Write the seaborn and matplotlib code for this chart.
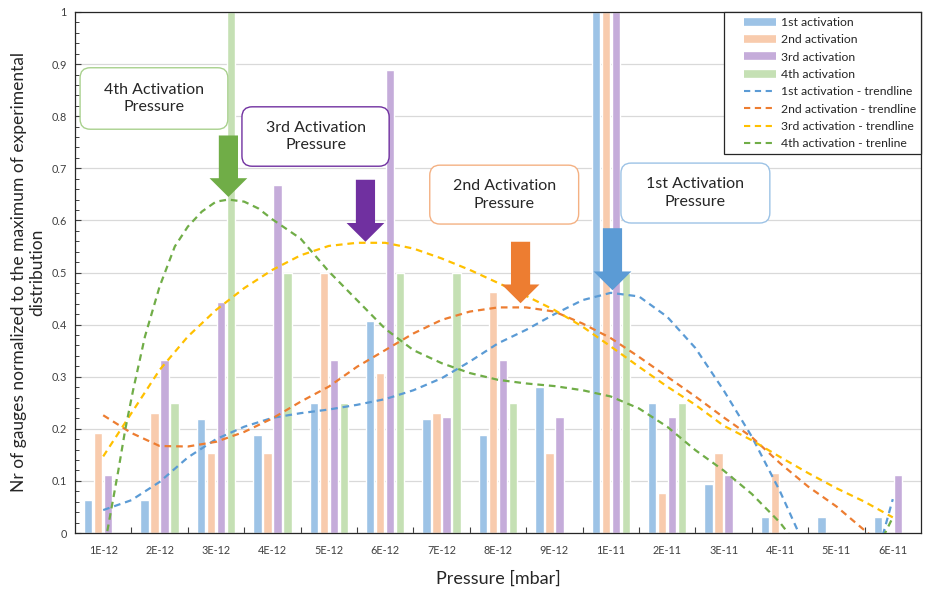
import numpy as np
import pandas as pd
import matplotlib
matplotlib.use("Agg")
import matplotlib.pyplot as plt
from matplotlib.lines import Line2D
from matplotlib.legend_handler import HandlerLine2D
from matplotlib.patches import FancyArrow, FancyBboxPatch
from matplotlib.ticker import FixedLocator, MultipleLocator
import seaborn as sns

# ---- data -------------------------------------------------------------
pressures = ["1E-12", "2E-12", "3E-12", "4E-12", "5E-12", "6E-12", "7E-12",
             "8E-12", "9E-12", "1E-11", "2E-11", "3E-11", "4E-11", "5E-11", "6E-11"]
activations = ["1st activation", "2nd activation", "3rd activation", "4th activation"]

act1 = [0.063, 0.063, 0.219, 0.188, 0.25, 0.406, 0.219, 0.188, 0.281, 1.0, 0.25, 0.094, 0.031, 0.031, 0.031]
act2 = [0.192, 0.231, 0.154, 0.154, 0.5, 0.308, 0.231, 0.462, 0.154, 1.0, 0.077, 0.154, 0.115, 0.0, 0.0]
act3 = [0.111, 0.333, 0.444, 0.667, 0.333, 0.889, 0.222, 0.333, 0.222, 1.0, 0.222, 0.111, 0.0, 0.0, 0.111]
act4 = [0.0, 0.25, 1.0, 0.5, 0.25, 0.5, 0.5, 0.25, 0.0, 0.5, 0.25, 0.0, 0.0, 0.0, 0.0]

# trendlines (position on the category axis, value)
trend_pos = [0, 0.5, 1, 1.5, 2, 2.5, 3, 3.5, 4, 4.5, 5, 5.5, 6, 6.5, 7,
             7.5, 8, 8.5, 9, 9.5, 10, 10.5, 11, 11.5, 12, 12.5, 13, 13.5, 14]
trend1 = [0.044, 0.063, 0.098, 0.145, 0.18, 0.204, 0.221, 0.230, 0.237, 0.246, 0.257, 0.274, 0.297, 0.329,
          0.364, 0.39, 0.42, 0.447, 0.461, 0.454, 0.415, 0.355, 0.274, 0.185, 0.08, -0.04, -0.12, -0.13, 0.065]
trend2 = [0.226, 0.192, 0.167, 0.166, 0.175, 0.194, 0.22, 0.252, 0.281, 0.319, 0.351, 0.383, 0.409, 0.425,
          0.433, 0.433, 0.425, 0.402, 0.374, 0.338, 0.300, 0.262, 0.222, 0.184, 0.134, 0.089, 0.051, 0.005, -0.04]
trend3 = [0.147, 0.23, 0.313, 0.377, 0.428, 0.470, 0.505, 0.533, 0.551, 0.557, 0.557, 0.546, 0.527, 0.505,
          0.48, 0.455, 0.428, 0.396, 0.358, 0.319, 0.281, 0.246, 0.206, 0.178, 0.146, 0.115, 0.086, 0.06, 0.03]
trend4_pos = [0, 0.27, 0.39, 0.53, 0.74, 1, 1.27, 1.5, 1.75, 2, 2.22, 2.5, 2.75, 3, 3.5, 4, 4.5, 5,
              5.5, 6, 6.5, 7, 7.5, 8, 8.5, 9, 9.5, 10, 10.5, 11, 11.5, 12, 12.5, 13, 13.5, 14]
trend4 = [-0.04, 0.121, 0.198, 0.274, 0.377, 0.473, 0.55, 0.588, 0.617, 0.636, 0.64, 0.636, 0.623, 0.602,
          0.565, 0.502, 0.447, 0.392, 0.351, 0.326, 0.307, 0.294, 0.287, 0.282, 0.274, 0.262, 0.239, 0.204,
          0.159, 0.12, 0.075, 0.02, -0.05, -0.09, -0.08, 0.03]
trend_labels = ["1st activation - trendline", "2nd activation - trendline",
                "3rd activation - trendline", "4th activation - trenline"]

bar_colors = ["#9DC3E6", "#F8CBAD", "#C5ACDA", "#C5E0B4"]
line_colors = ["#5B9BD5", "#ED7D31", "#FFC000", "#70AD47"]


class ShiftedLine(HandlerLine2D):
    """Legend line handler that leaves an empty margin before the key."""

    def __init__(self, shift, **kw):
        super().__init__(**kw)
        self.shift = shift

    def create_artists(self, legend, orig_handle, xdescent, ydescent, width, height, fontsize, trans):
        return super().create_artists(legend, orig_handle, xdescent - self.shift, ydescent,
                                      width - self.shift, height, fontsize, trans)


# ---- style ------------------------------------------------------------
sns.set_theme(style="white")
plt.rcParams["font.family"] = ["Lato", "DejaVu Sans"]

df = pd.DataFrame({
    "Pressure": pressures * 4,
    "Activation": np.repeat(activations, len(pressures)),
    "value": act1 + act2 + act3 + act4,
})

fig = plt.figure(figsize=(9.26, 5.90), dpi=100)
ax = fig.add_axes([75 / 926, 57 / 590, 846 / 926, 521 / 590])

sns.barplot(data=df, x="Pressure", y="value", hue="Activation", order=pressures,
            hue_order=activations, palette=bar_colors, saturation=1, width=0.71,
            gap=0.15, errorbar=None, legend=False, ax=ax, zorder=2)

# trendlines
for pos, vals, col in [(trend_pos, trend1, line_colors[0]), (trend_pos, trend2, line_colors[1]),
                       (trend_pos, trend3, line_colors[2]), (trend4_pos, trend4, line_colors[3])]:
    ax.plot(pos, vals, color=col, lw=1.6, dashes=(3.0, 2.2), zorder=3)

ax.set_xlim(-0.5, len(pressures) - 0.5)
ax.set_ylim(0, 1)

# axes, ticks, grid
ax.yaxis.set_major_locator(FixedLocator(np.arange(0, 1.01, 0.1)))
ax.set_yticklabels(["0", "0.1", "0.2", "0.3", "0.4", "0.5", "0.6", "0.7", "0.8", "0.9", "1"])
ax.yaxis.set_minor_locator(MultipleLocator(0.02))
ax.xaxis.set_minor_locator(FixedLocator(np.arange(0.5, len(pressures) - 1, 1.0)))
ax.tick_params(axis="y", which="major", direction="in", length=4, width=0.8, color="#404040",
               labelsize=7.8, labelcolor="#404040", pad=6, left=True)
ax.tick_params(axis="y", which="minor", direction="in", length=3, width=0.7, color="#404040", left=True)
ax.tick_params(axis="x", which="major", length=0, labelsize=7.8, labelcolor="#404040", pad=9)
ax.tick_params(axis="x", which="minor", direction="in", length=4, width=0.8, color="#404040", bottom=True)
ax.yaxis.grid(True, which="major", color="#D9D9D9", lw=0.9)
ax.xaxis.grid(False)
ax.set_axisbelow(True)
for s in ax.spines.values():
    s.set_color("#262626")
    s.set_linewidth(0.9)

ax.set_xlabel("Pressure [mbar]", fontsize=13, color="#262626", labelpad=10)
ax.set_ylabel("Nr of gauges normalized to the maximum of experimental\ndistribution",
              fontsize=12.5, color="#262626", labelpad=4, multialignment="center")

# activation pressure arrows
arrows = [(2.22, 0.763, 0.645, line_colors[3]),
          (4.65, 0.678, 0.559, "#7030A0"),
          (7.40, 0.559, 0.441, line_colors[1]),
          (9.03, 0.585, 0.466, line_colors[0])]
for x, ytop, ytip, col in arrows:
    ax.add_patch(FancyArrow(x, ytop, 0, ytip - ytop, width=0.34, head_width=0.67,
                            head_length=0.036, length_includes_head=True,
                            color=col, lw=0, zorder=6))

# callout boxes
aspect = (1 / 521) / (1 / 56.4)
boxes = [(-0.41, 0.775, 2.62, 0.118, "#A9D18E", "4th Activation\nPressure"),
         (2.46, 0.704, 2.61, 0.114, "#7030A0", "3rd Activation\nPressure"),
         (5.79, 0.593, 2.64, 0.113, "#F4B183", "2nd Activation\nPressure"),
         (9.18, 0.595, 2.64, 0.115, "#9DC3E6", "1st Activation\nPressure")]
for x0, y0, w, h, ec, txt in boxes:
    ax.add_patch(FancyBboxPatch((x0, y0), w, h, boxstyle="round,pad=0,rounding_size=0.18",
                                mutation_aspect=aspect, facecolor="white", edgecolor=ec,
                                lw=1.0, zorder=7))
    ax.text(x0 + w / 2, y0 + h / 2, txt, ha="center", va="center", fontsize=11.5,
            color="#262626", linespacing=1.35, zorder=8)

# legend
handles = [Line2D([0], [0], color=c, lw=5.5, solid_capstyle="butt") for c in bar_colors]
handles += [Line2D([0], [0], color=c, lw=1.5, dashes=(3.0, 2.2)) for c in line_colors]
leg = ax.legend(handles, activations + trend_labels, loc="upper right", bbox_to_anchor=(1, 1),
                borderaxespad=0, fontsize=8.8, handlelength=3.8, handletextpad=0.42,
                labelspacing=0.52, borderpad=0.4, fancybox=False, framealpha=1,
                edgecolor="#262626", facecolor="white",
                handler_map={h: ShiftedLine(10.5) for h in handles})
leg.get_frame().set_linewidth(0.9)
leg.set_zorder(9)
for t in leg.get_texts():
    t.set_color("#262626")

fig.savefig("out.png", dpi=100)
